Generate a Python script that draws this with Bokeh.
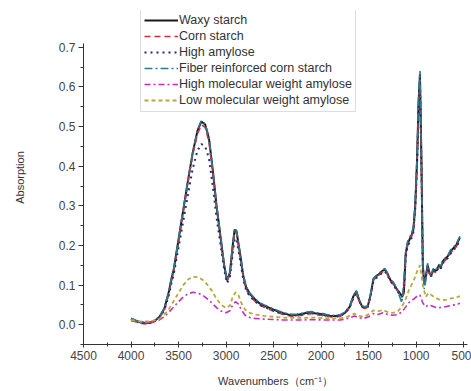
from bokeh.plotting import figure
from bokeh.models import Range1d, FixedTicker, PrintfTickFormatter, Legend, LegendItem
from bokeh.embed import file_html
from bokeh.resources import INLINE

# ---------------- data ----------------
wn_main = [
    4000, 3950, 3900, 3850, 3800, 3750, 3700, 3650, 3600, 3580,
    3550, 3500, 3450, 3400, 3350, 3300, 3260, 3220, 3180, 3140,
    3100, 3060, 3020, 2990, 2960, 2930, 2910, 2890, 2870, 2850,
    2820, 2790, 2750, 2700, 2650, 2600, 2550, 2500, 2450, 2400,
    2350, 2300, 2250, 2200, 2150, 2100, 2050, 2000, 1950, 1900,
    1850, 1800, 1750, 1700, 1660, 1630, 1600, 1570, 1540, 1510,
    1480, 1450, 1420, 1390, 1360, 1330, 1300, 1270, 1240, 1210,
    1180, 1150, 1130, 1110, 1090, 1070, 1050, 1030, 1010, 990,
    975, 960, 945, 930, 915, 900, 880, 860, 840, 820,
    800, 780, 760, 740, 720, 700, 680, 660, 640, 620,
    600, 580, 560, 540,
]

waxy = [
    0.015, 0.010, 0.006, 0.004, 0.005, 0.010, 0.020, 0.040, 0.085, 0.110,
    0.140, 0.215, 0.290, 0.365, 0.435, 0.490, 0.513, 0.505, 0.470, 0.390,
    0.300, 0.225, 0.150, 0.112, 0.130, 0.200, 0.240, 0.235, 0.205, 0.175,
    0.125, 0.095, 0.078, 0.065, 0.054, 0.048, 0.043, 0.038, 0.033, 0.029,
    0.026, 0.024, 0.025, 0.027, 0.030, 0.031, 0.028, 0.027, 0.024, 0.022,
    0.022, 0.023, 0.030, 0.045, 0.072, 0.084, 0.062, 0.046, 0.043, 0.046,
    0.075, 0.115, 0.122, 0.128, 0.135, 0.140, 0.128, 0.112, 0.105, 0.092,
    0.082, 0.072, 0.080, 0.180, 0.205, 0.215, 0.225, 0.240, 0.300, 0.420,
    0.560, 0.633, 0.420, 0.150, 0.100, 0.120, 0.150, 0.130, 0.125, 0.140,
    0.135, 0.140, 0.150, 0.145, 0.160, 0.165, 0.170, 0.175, 0.185, 0.190,
    0.195, 0.200, 0.210, 0.220,
]

corn = [
    0.012, 0.008, 0.004, 0.002, 0.004, 0.008, 0.018, 0.036, 0.080, 0.105,
    0.135, 0.210, 0.285, 0.360, 0.430, 0.482, 0.505, 0.498, 0.462, 0.385,
    0.295, 0.220, 0.148, 0.110, 0.128, 0.195, 0.235, 0.230, 0.200, 0.170,
    0.120, 0.090, 0.072, 0.060, 0.050, 0.044, 0.039, 0.034, 0.030, 0.026,
    0.023, 0.021, 0.022, 0.024, 0.026, 0.028, 0.025, 0.024, 0.021, 0.020,
    0.020, 0.021, 0.028, 0.043, 0.070, 0.082, 0.060, 0.044, 0.041, 0.044,
    0.072, 0.112, 0.120, 0.126, 0.132, 0.137, 0.125, 0.110, 0.102, 0.090,
    0.080, 0.070, 0.078, 0.175, 0.200, 0.212, 0.222, 0.236, 0.295, 0.410,
    0.550, 0.620, 0.410, 0.145, 0.098, 0.118, 0.146, 0.128, 0.122, 0.136,
    0.132, 0.137, 0.146, 0.142, 0.156, 0.161, 0.166, 0.171, 0.180, 0.186,
    0.191, 0.196, 0.205, 0.215,
]

high_amylose = [
    0.014, 0.009, 0.005, 0.004, 0.005, 0.009, 0.018, 0.036, 0.076, 0.100,
    0.128, 0.195, 0.262, 0.330, 0.395, 0.440, 0.456, 0.450, 0.420, 0.350,
    0.270, 0.205, 0.140, 0.105, 0.120, 0.180, 0.218, 0.214, 0.188, 0.160,
    0.115, 0.088, 0.072, 0.060, 0.050, 0.045, 0.040, 0.036, 0.031, 0.028,
    0.025, 0.023, 0.024, 0.026, 0.029, 0.030, 0.027, 0.026, 0.023, 0.021,
    0.021, 0.022, 0.029, 0.043, 0.068, 0.080, 0.060, 0.045, 0.042, 0.045,
    0.072, 0.110, 0.118, 0.124, 0.130, 0.135, 0.124, 0.109, 0.101, 0.089,
    0.079, 0.070, 0.078, 0.172, 0.198, 0.208, 0.218, 0.232, 0.292, 0.405,
    0.545, 0.615, 0.405, 0.148, 0.100, 0.118, 0.145, 0.128, 0.122, 0.136,
    0.132, 0.137, 0.146, 0.142, 0.156, 0.160, 0.165, 0.170, 0.179, 0.185,
    0.190, 0.195, 0.204, 0.214,
]

fiber = [
    0.016, 0.011, 0.007, 0.005, 0.006, 0.011, 0.021, 0.041, 0.086, 0.112,
    0.142, 0.217, 0.292, 0.367, 0.437, 0.492, 0.515, 0.507, 0.472, 0.392,
    0.302, 0.227, 0.152, 0.114, 0.132, 0.202, 0.243, 0.238, 0.207, 0.177,
    0.127, 0.097, 0.080, 0.067, 0.056, 0.050, 0.045, 0.040, 0.035, 0.031,
    0.028, 0.026, 0.027, 0.029, 0.032, 0.033, 0.030, 0.029, 0.026, 0.024,
    0.024, 0.025, 0.032, 0.047, 0.074, 0.086, 0.064, 0.048, 0.045, 0.048,
    0.077, 0.117, 0.124, 0.130, 0.137, 0.142, 0.130, 0.114, 0.107, 0.094,
    0.075, 0.055, 0.110, 0.185, 0.210, 0.220, 0.230, 0.245, 0.305, 0.430,
    0.570, 0.640, 0.430, 0.155, 0.090, 0.110, 0.155, 0.135, 0.128, 0.142,
    0.138, 0.143, 0.152, 0.148, 0.162, 0.167, 0.172, 0.178, 0.188, 0.193,
    0.198, 0.203, 0.213, 0.223,
]

wn_low = [
    4000, 3900, 3800, 3700, 3650, 3600, 3550, 3500, 3450, 3400,
    3350, 3300, 3250, 3200, 3150, 3100, 3050, 3000, 2960, 2930,
    2900, 2870, 2840, 2800, 2750, 2700, 2600, 2500, 2400, 2300,
    2200, 2100, 2000, 1900, 1800, 1750, 1700, 1650, 1600, 1550,
    1500, 1450, 1400, 1350, 1300, 1250, 1200, 1150, 1110, 1080,
    1050, 1020, 990, 960, 930, 900, 870, 840, 800, 760,
    720, 680, 640, 600, 560, 540,
]

high_mw_amylose = [
    0.010, 0.005, 0.006, 0.012, 0.020, 0.032, 0.045, 0.058, 0.070, 0.078,
    0.082, 0.080, 0.075, 0.066, 0.055, 0.043, 0.034, 0.030, 0.035, 0.050,
    0.058, 0.052, 0.038, 0.024, 0.018, 0.016, 0.014, 0.013, 0.012, 0.012,
    0.012, 0.013, 0.012, 0.012, 0.012, 0.014, 0.017, 0.022, 0.017, 0.016,
    0.020, 0.028, 0.026, 0.030, 0.026, 0.024, 0.025, 0.032, 0.045, 0.055,
    0.060, 0.066, 0.072, 0.075, 0.055, 0.045, 0.050, 0.048, 0.044, 0.043,
    0.044, 0.046, 0.048, 0.050, 0.052, 0.054,
]

low_mw_amylose = [
    0.012, 0.008, 0.008, 0.015, 0.025, 0.040, 0.060, 0.080, 0.100, 0.114,
    0.121, 0.120, 0.114, 0.102, 0.086, 0.065, 0.050, 0.042, 0.048, 0.070,
    0.082, 0.075, 0.055, 0.038, 0.030, 0.026, 0.022, 0.020, 0.018, 0.017,
    0.017, 0.018, 0.017, 0.016, 0.016, 0.018, 0.022, 0.028, 0.022, 0.020,
    0.026, 0.036, 0.034, 0.037, 0.032, 0.030, 0.032, 0.045, 0.065, 0.085,
    0.100, 0.115, 0.135, 0.150, 0.100, 0.070, 0.080, 0.075, 0.068, 0.064,
    0.062, 0.063, 0.066, 0.068, 0.070, 0.072,
]

series_names = [
    "Waxy starch",
    "Corn starch",
    "High amylose",
    "Fiber reinforced corn starch",
    "High molecular weight amylose",
    "Low molecular weight amylose",
]

x_ticks = [4500, 4000, 3500, 3000, 2500, 2000, 1500, 1000, 500]
x_minor = [4250, 3750, 3250, 2750, 2250, 1750, 1250, 750]
y_ticks = [0.0, 0.1, 0.2, 0.3, 0.4, 0.5, 0.6, 0.7]
y_minor = [-0.05, 0.05, 0.15, 0.25, 0.35, 0.45, 0.55, 0.65]

# ---------------- figure ----------------
FONT = "Liberation Sans"

p = figure(width=471, height=391, output_backend="svg", toolbar_location=None,
           x_range=Range1d(4500, 460), y_range=Range1d(-0.05, 0.793),
           min_border_left=83, min_border_right=4, min_border_top=10,
           min_border_bottom=47)
p.outline_line_color = None
p.xgrid.visible = False
p.ygrid.visible = False
p.background_fill_color = "white"

styles = [
    (wn_main, waxy, "#1a1a1a", "solid", 2.0),
    (wn_main, corn, "#d0303a", "6 4", 1.6),
    (wn_main, high_amylose, "#1f2f70", "2 4", 2.0),
    (wn_main, fiber, "#2a7a8c", "8 3 2 3", 1.6),
    (wn_low, high_mw_amylose, "#c030c0", "6 3 2 3", 1.6),
    (wn_low, low_mw_amylose, "#b8a840", "4 3", 1.8),
]

items = []
for name, (xs, ys, col, dash, w) in zip(series_names, styles):
    r = p.line(xs, ys, line_color=col, line_dash=dash, line_width=w)
    items.append(LegendItem(label=name, renderers=[r]))

legend = Legend(items=items, location=(57, 232),
                border_line_color="#bbbbbb", border_line_width=1,
                background_fill_color="white", background_fill_alpha=1.0,
                label_text_font=FONT, label_text_font_size="12.5px",
                label_text_color="#333333",
                glyph_width=34, glyph_height=16, label_height=16,
                label_standoff=1, spacing=0, padding=3, margin=0)
p.add_layout(legend)

# x axis
xa = p.xaxis[0]
xa.ticker = FixedTicker(ticks=x_ticks, minor_ticks=x_minor)
xa.axis_label = "Wavenumbers（cm⁻¹）"
xa.axis_label_text_font = FONT
xa.axis_label_text_font_size = "11px"
xa.axis_label_text_font_style = "normal"
xa.axis_label_text_color = "#333333"
xa.axis_label_standoff = 12
xa.major_label_text_font = FONT
xa.major_label_text_font_size = "12px"
xa.major_label_text_color = "#444444"
xa.major_label_standoff = 3
xa.major_tick_in = 3
xa.major_tick_out = 3
xa.minor_tick_in = 2
xa.minor_tick_out = 2
xa.axis_line_color = "#333333"
xa.major_tick_line_color = "#333333"
xa.minor_tick_line_color = "#333333"

# y axis
ya = p.yaxis[0]
ya.ticker = FixedTicker(ticks=y_ticks, minor_ticks=y_minor)
ya.formatter = PrintfTickFormatter(format="%.1f")
ya.bounds = (-0.05, 0.71)
ya.axis_label = "Absorption"
ya.axis_label_text_font = FONT
ya.axis_label_text_font_size = "11px"
ya.axis_label_text_font_style = "normal"
ya.axis_label_text_color = "#333333"
ya.axis_label_standoff = 30
ya.major_label_text_font = FONT
ya.major_label_text_font_size = "12px"
ya.major_label_text_color = "#444444"
ya.major_label_standoff = 3
ya.major_tick_in = 0
ya.major_tick_out = 5
ya.minor_tick_in = 0
ya.minor_tick_out = 3
ya.axis_line_color = "#333333"
ya.major_tick_line_color = "#333333"
ya.minor_tick_line_color = "#333333"

open("out.html", "w").write(file_html(p, INLINE))
